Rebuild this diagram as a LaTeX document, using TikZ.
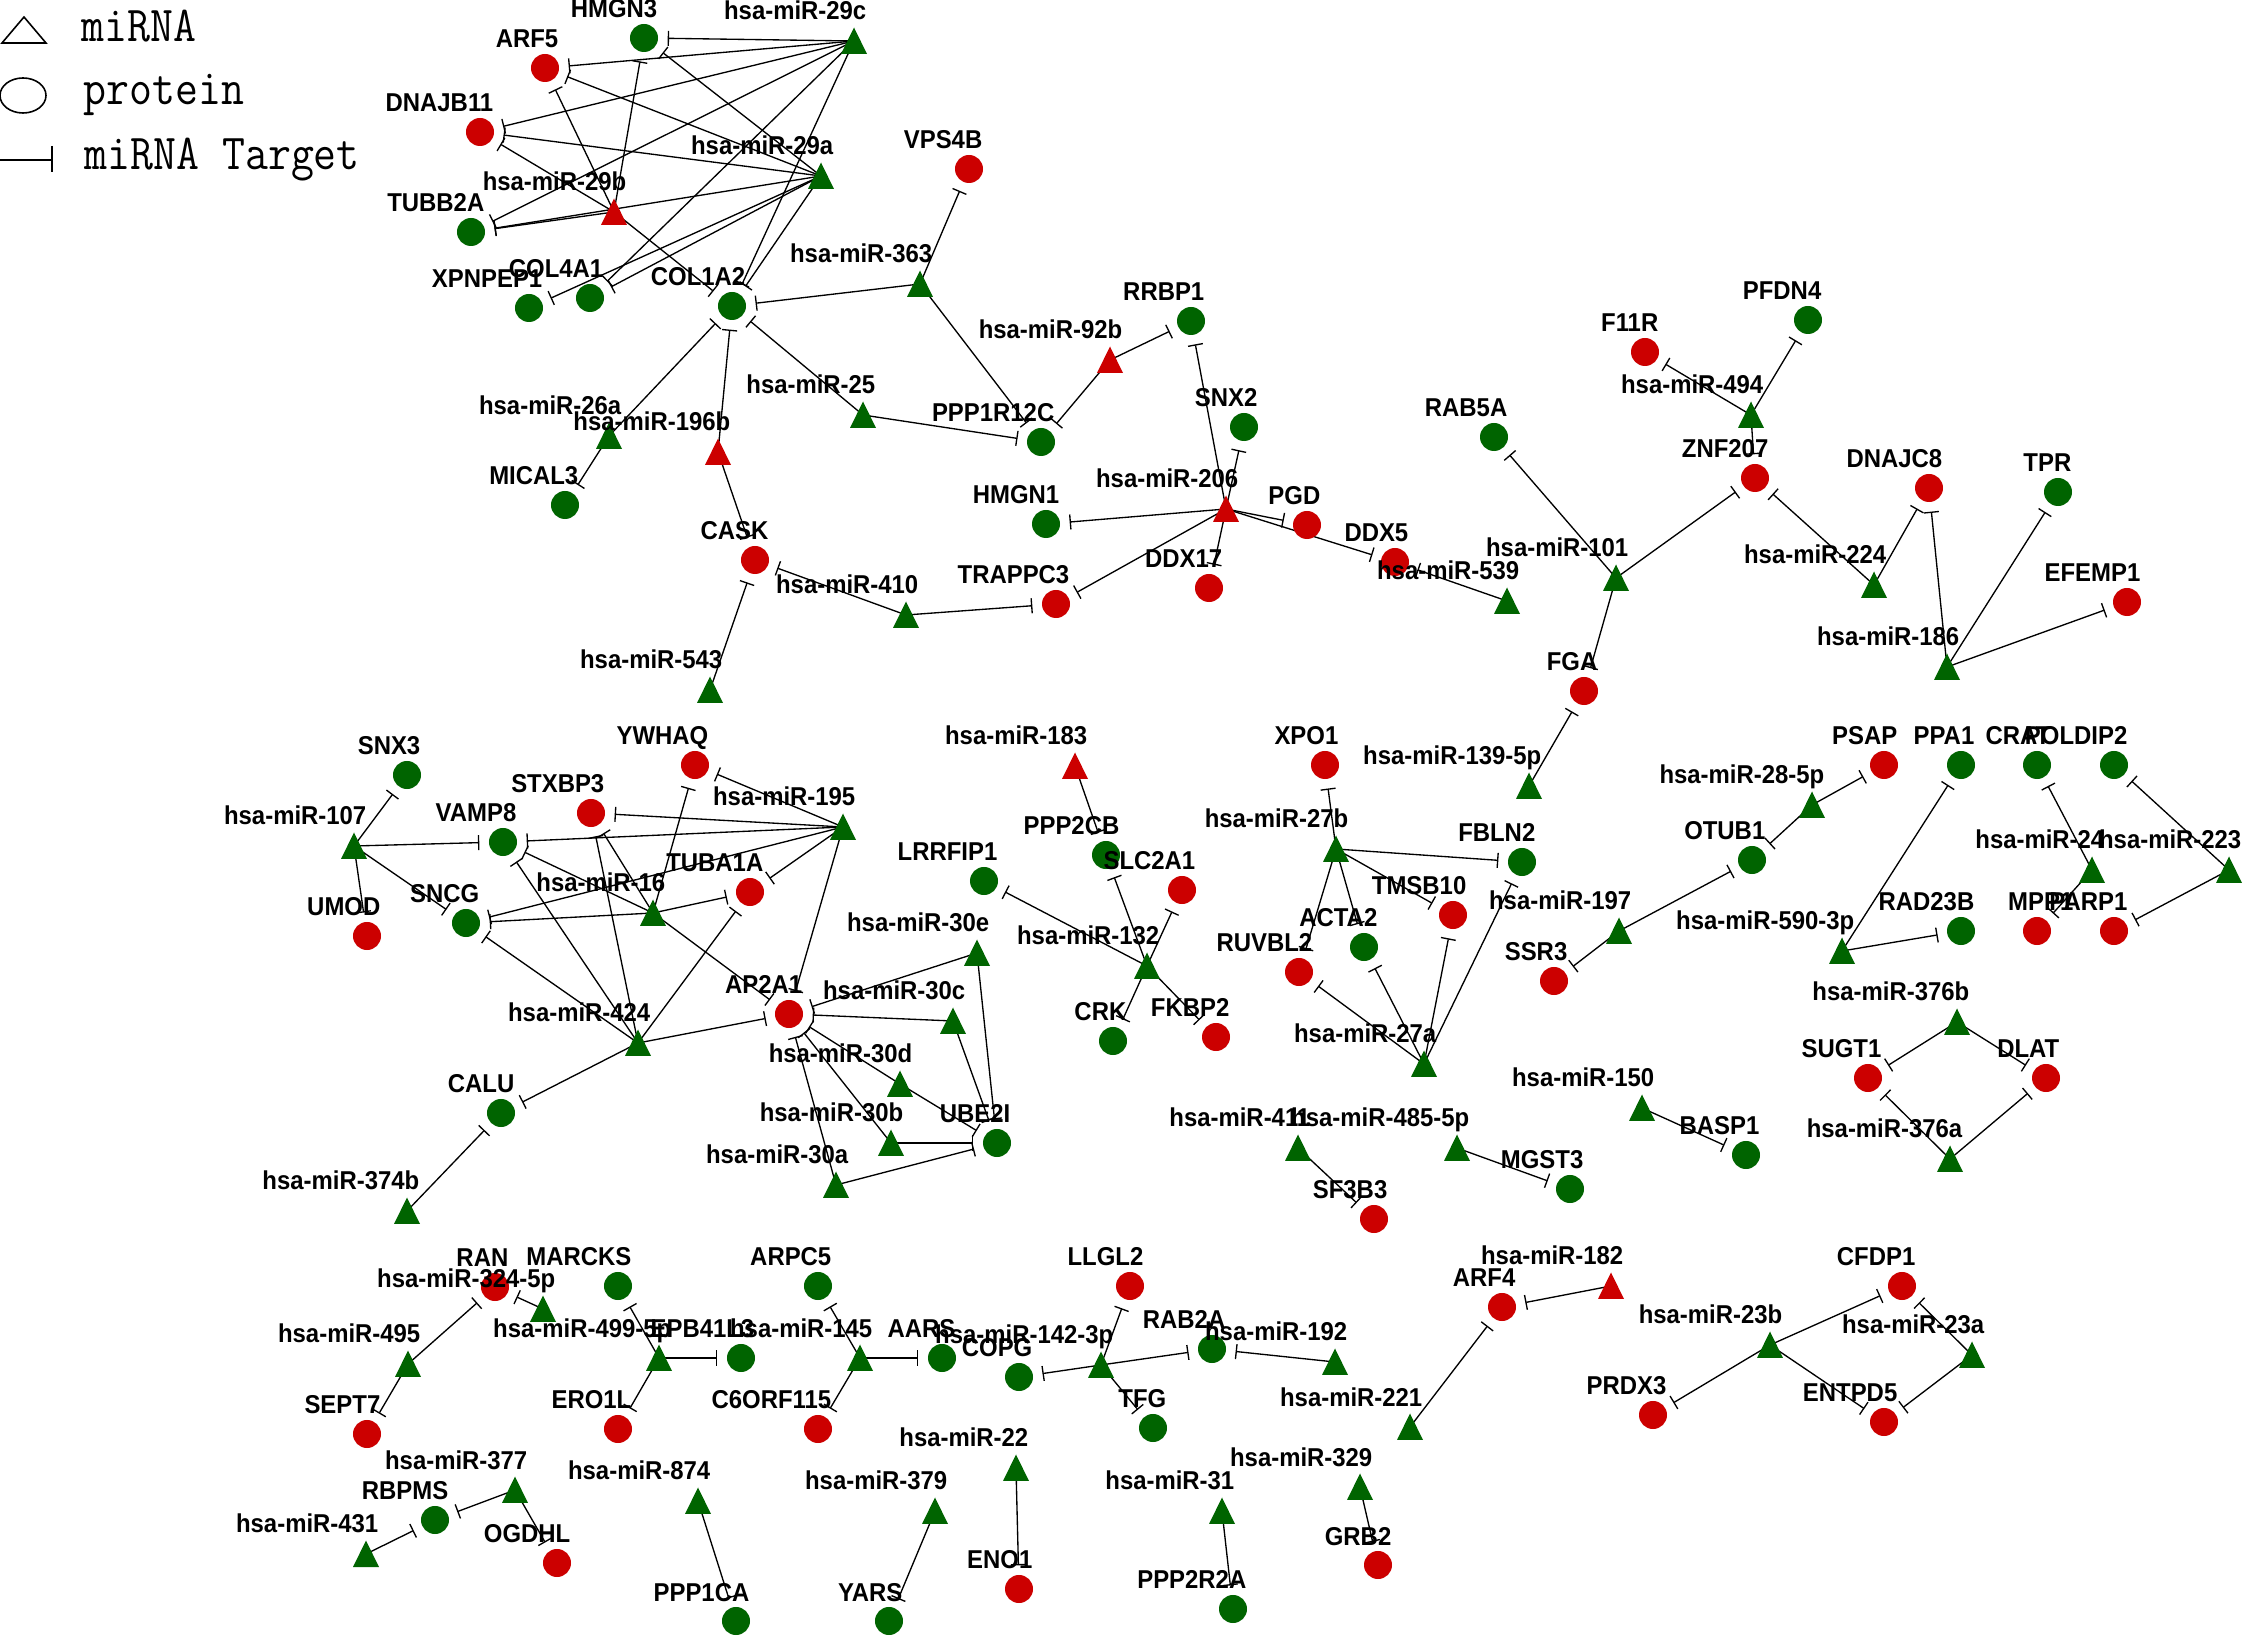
\documentclass[tikz,border=0pt]{standalone}
\usepackage{fontspec}
\usepackage{graphicx}
\setmainfont{Liberation Sans}
\usetikzlibrary{arrows.meta}
\pgfdeclarelayer{paper}
\pgfdeclarelayer{bg}
\pgfsetlayers{paper,bg,main}
\definecolor{dg}{RGB}{0,100,0}
\definecolor{dr}{RGB}{204,0,0}
\tikzset{
  prot/.style={circle,minimum size=0.28cm,inner sep=0pt,draw=none},
  mir/.style={circle,minimum size=0.26cm,inner sep=0pt,draw=none},
  lab/.style={anchor=base east,inner sep=0pt,font=\bfseries\fontsize{6.8pt}{8pt}\selectfont},
  inh/.style={line width=0.38pt,-{Bar[width=0.15cm]},shorten >=0.09cm},
  legtxt/.style={anchor=base west,inner sep=0pt,font=\ttfamily\fontsize{12.66pt}{14pt}\selectfont},
  legline/.style={line width=0.45pt}
}
\newcommand{\Pn}[6][14]{\node[prot,fill=#5] (#2) at (#3,#4) {};\node[lab] (#2-l) at (#3+#1,#4-20) {\scalebox{1}[1.08]{#6}};}
\newcommand{\Mn}[5]{\node[mir] (#1) at (#2,#3) {};\fill[#4] (#2-13,#3+13) -- (#2+13,#3+13) -- (#2,#3-13.5) -- cycle;\node[lab] (#1-l) at (#2+13,#3-21) {\scalebox{1}[1.08]{#5}};}
\begin{document}
\begin{tikzpicture}[x=0.01cm,y=-0.01cm]
\begin{pgfonlayer}{paper}
\fill[white] (0,0) rectangle (2244,1640);
\end{pgfonlayer}
\useasboundingbox (0,0) rectangle (2244,1640);
% legend
\draw[legline] (24,17) -- (46,43) -- (2,43) -- cycle;
\node[legtxt] (lg1) at (81,42) {\scalebox{1}[1.13]{miRNA}};
\draw[legline] (23,95.5) ellipse [x radius=0.23cm, y radius=0.175cm];
\node[legtxt] (lg2) at (83,105) {\scalebox{1}[1.13]{protein}};
\draw[legline] (0,160) -- (52,160);
\draw[legline] (52,146) -- (52,172);
\node[legtxt] (lg3) at (84,170) {\scalebox{1}[1.13]{miRNA Target}};
% proteins
\Pn{ARF5}{545}{68}{dr}{ARF5}
\Pn{HMGN3}{644}{38}{dg}{HMGN3}
\Pn{DNAJB11}{480}{132}{dr}{DNAJB11}
\Pn{TUBB2A}{471}{232}{dg}{TUBB2A}
\Pn{XPNPEP1}{529}{308}{dg}{XPNPEP1}
\Pn{COL4A1}{590}{298}{dg}{COL4A1}
\Pn{COL1A2}{732}{306}{dg}{COL1A2}
\Pn{VPS4B}{969}{169}{dr}{VPS4B}
\Pn{RRBP1}{1191}{321}{dg}{RRBP1}
\Pn{PPP1R12C}{1041}{442}{dg}{PPP1R12C}
\Pn{MICAL3}{565}{505}{dg}{MICAL3}
\Pn{SNX2}{1244}{427}{dg}{SNX2}
\Pn{HMGN1}{1046}{524}{dg}{HMGN1}
\Pn{PGD}{1307}{525}{dr}{PGD}
\Pn{CASK}{755}{560}{dr}{CASK}
\Pn{DDX17}{1209}{588}{dr}{DDX17}
\Pn{DDX5}{1395}{562}{dr}{DDX5}
\Pn{TRAPPC3}{1056}{604}{dr}{TRAPPC3}
\Pn{RAB5A}{1494}{437}{dg}{RAB5A}
\Pn{F11R}{1645}{352}{dr}{F11R}
\Pn{PFDN4}{1808}{320}{dg}{PFDN4}
\Pn{ZNF207}{1755}{478}{dr}{ZNF207}
\Pn{DNAJC8}{1929}{488}{dr}{DNAJC8}
\Pn{TPR}{2058}{492}{dg}{TPR}
\Pn{EFEMP1}{2127}{602}{dr}{EFEMP1}
\Pn{FGA}{1584}{691}{dr}{FGA}
\Pn{SNX3}{407}{775}{dg}{SNX3}
\Pn{YWHAQ}{695}{765}{dr}{YWHAQ}
\Pn{STXBP3}{591}{813}{dr}{STXBP3}
\Pn{VAMP8}{503}{842}{dg}{VAMP8}
\Pn{TUBA1A}{750}{892}{dr}{TUBA1A}
\Pn{SNCG}{466}{923}{dg}{SNCG}
\Pn{UMOD}{367}{936}{dr}{UMOD}
\Pn{AP2A1}{789}{1014}{dr}{AP2A1}
\Pn{CALU}{501}{1113}{dg}{CALU}
\Pn{PPP2CB}{1106}{855}{dg}{PPP2CB}
\Pn{LRRFIP1}{984}{881}{dg}{LRRFIP1}
\Pn{SLC2A1}{1182}{890}{dr}{SLC2A1}
\Pn{CRK}{1113}{1041}{dg}{CRK}
\Pn{FKBP2}{1216}{1037}{dr}{FKBP2}
\Pn{XPO1}{1325}{765}{dr}{XPO1}
\Pn{FBLN2}{1522}{862}{dg}{FBLN2}
\Pn{TMSB10}{1453}{915}{dr}{TMSB10}
\Pn{ACTA2}{1364}{947}{dg}{ACTA2}
\Pn{RUVBL2}{1299}{972}{dr}{RUVBL2}
\Pn{SSR3}{1554}{981}{dr}{SSR3}
\Pn{PSAP}{1884}{765}{dr}{PSAP}
\Pn{PPA1}{1961}{765}{dg}{PPA1}
\Pn{CRAT}{2037}{765}{dg}{CRAT}
\Pn{POLDIP2}{2114}{765}{dg}{POLDIP2}
\Pn{OTUB1}{1752}{860}{dg}{OTUB1}
\Pn{RAD23B}{1961}{931}{dg}{RAD23B}
\Pn[37]{MPP1}{2037}{931}{dr}{MPP1}
\Pn{PARP1}{2114}{931}{dr}{PARP1}
\Pn{SUGT1}{1868}{1078}{dr}{SUGT1}
\Pn{DLAT}{2046}{1078}{dr}{DLAT}
\Pn{BASP1}{1746}{1155}{dg}{BASP1}
\Pn{UBE2I}{997}{1143}{dg}{UBE2I}
\Pn{SF3B3}{1374}{1219}{dr}{SF3B3}
\Pn{MGST3}{1570}{1189}{dg}{MGST3}
\Pn{RAN}{495}{1287}{dr}{RAN}
\Pn{MARCKS}{618}{1286}{dg}{MARCKS}
\Pn{EPB41L3}{741}{1358}{dg}{EPB41L3}
\Pn{ARPC5}{818}{1286}{dg}{ARPC5}
\Pn{AARS}{942}{1358}{dg}{AARS}
\Pn{COPG}{1019}{1377}{dg}{COPG}
\Pn{LLGL2}{1130}{1286}{dr}{LLGL2}
\Pn{RAB2A}{1212}{1349}{dg}{RAB2A}
\Pn{TFG}{1153}{1428}{dg}{TFG}
\Pn{ERO1L}{618}{1429}{dr}{ERO1L}
\Pn{C6ORF115}{818}{1429}{dr}{C6ORF115}
\Pn{SEPT7}{367}{1434}{dr}{SEPT7}
\Pn{ARF4}{1502}{1307}{dr}{ARF4}
\Pn{CFDP1}{1902}{1286}{dr}{CFDP1}
\Pn{PRDX3}{1653}{1415}{dr}{PRDX3}
\Pn{ENTPD5}{1884}{1422}{dr}{ENTPD5}
\Pn{RBPMS}{435}{1520}{dg}{RBPMS}
\Pn{OGDHL}{557}{1563}{dr}{OGDHL}
\Pn{ENO1}{1019}{1589}{dr}{ENO1}
\Pn{GRB2}{1378}{1565}{dr}{GRB2}
\Pn{PPP1CA}{736}{1621}{dg}{PPP1CA}
\Pn{YARS}{889}{1621}{dg}{YARS}
\Pn{PPP2R2A}{1233}{1609}{dg}{PPP2R2A}
% miRNAs
\Mn{m29c}{854}{41}{dg}{hsa-miR-29c}
\Mn{m29a}{821}{176}{dg}{hsa-miR-29a}
\Mn{m29b}{614}{212}{dr}{hsa-miR-29b}
\Mn{m363}{920}{284}{dg}{hsa-miR-363}
\Mn{m92b}{1110}{360}{dr}{hsa-miR-92b}
\Mn{m25}{863}{415}{dg}{hsa-miR-25}
\Mn{m26a}{609}{436}{dg}{hsa-miR-26a}
\Mn{m196b}{718}{452}{dr}{hsa-miR-196b}
\Mn{m206}{1226}{509}{dr}{hsa-miR-206}
\Mn{m410}{906}{615}{dg}{hsa-miR-410}
\Mn{m543}{710}{690}{dg}{hsa-miR-543}
\Mn{m539}{1507}{601}{dg}{hsa-miR-539}
\Mn{m101}{1616}{578}{dg}{hsa-miR-101}
\Mn{m494}{1751}{415}{dg}{hsa-miR-494}
\Mn{m224}{1874}{585}{dg}{hsa-miR-224}
\Mn{m186}{1947}{667}{dg}{hsa-miR-186}
\Mn{m139}{1529}{786}{dg}{hsa-miR-139-5p}
\Mn{m107}{354}{846}{dg}{hsa-miR-107}
\Mn{m195}{843}{827}{dg}{hsa-miR-195}
\Mn{m16}{653}{913}{dg}{hsa-miR-16}
\Mn{m424}{638}{1043}{dg}{hsa-miR-424}
\Mn{m374b}{407}{1211}{dg}{hsa-miR-374b}
\Mn{m183}{1075}{766}{dr}{hsa-miR-183}
\Mn{m132}{1147}{966}{dg}{hsa-miR-132}
\Mn{m30e}{977}{953}{dg}{hsa-miR-30e}
\Mn{m30c}{953}{1021}{dg}{hsa-miR-30c}
\Mn{m30d}{900}{1084}{dg}{hsa-miR-30d}
\Mn{m30b}{891}{1143}{dg}{hsa-miR-30b}
\Mn{m30a}{836}{1185}{dg}{hsa-miR-30a}
\Mn{m27b}{1336}{849}{dg}{hsa-miR-27b}
\Mn{m27a}{1424}{1064}{dg}{hsa-miR-27a}
\Mn{m197}{1619}{931}{dg}{hsa-miR-197}
\Mn{m285p}{1812}{805}{dg}{hsa-miR-28-5p}
\Mn{m5903p}{1842}{951}{dg}{hsa-miR-590-3p}
\Mn{m24}{2092}{870}{dg}{hsa-miR-24}
\Mn{m223}{2229}{870}{dg}{hsa-miR-223}
\Mn{m376b}{1957}{1022}{dg}{hsa-miR-376b}
\Mn{m376a}{1950}{1159}{dg}{hsa-miR-376a}
\Mn{m150}{1642}{1108}{dg}{hsa-miR-150}
\Mn{m411}{1298}{1148}{dg}{hsa-miR-411}
\Mn{m4855p}{1457}{1148}{dg}{hsa-miR-485-5p}
\Mn{m3245p}{543}{1309}{dg}{hsa-miR-324-5p}
\Mn{m495}{408}{1364}{dg}{hsa-miR-495}
\Mn{m4995p}{659}{1358}{dg}{hsa-miR-499-5p}
\Mn{m145}{860}{1358}{dg}{hsa-miR-145}
\Mn{m1423p}{1101}{1365}{dg}{hsa-miR-142-3p}
\Mn{m192}{1335}{1362}{dg}{hsa-miR-192}
\Mn{m182}{1611}{1286}{dr}{hsa-miR-182}
\Mn{m221}{1410}{1427}{dg}{hsa-miR-221}
\Mn{m23b}{1770}{1345}{dg}{hsa-miR-23b}
\Mn{m23a}{1972}{1355}{dg}{hsa-miR-23a}
\Mn{m22}{1016}{1468}{dg}{hsa-miR-22}
\Mn{m377}{515}{1490}{dg}{hsa-miR-377}
\Mn{m431}{366}{1554}{dg}{hsa-miR-431}
\Mn{m874}{698}{1501}{dg}{hsa-miR-874}
\Mn{m379}{935}{1511}{dg}{hsa-miR-379}
\Mn{m31}{1222}{1511}{dg}{hsa-miR-31}
\Mn{m329}{1360}{1487}{dg}{hsa-miR-329}
% edges
\begin{pgfonlayer}{bg}
\foreach \s/\t in {m29c/HMGN3,m29c/ARF5,m29c/DNAJB11,m29c/TUBB2A,m29c/COL4A1,m29c/COL1A2,
 m29a/HMGN3,m29a/ARF5,m29a/DNAJB11,m29a/TUBB2A,m29a/COL4A1,m29a/XPNPEP1,m29a/COL1A2,
 m29b/HMGN3,m29b/ARF5,m29b/DNAJB11,m29b/TUBB2A,m29b/COL1A2,
 m363/VPS4B,m363/COL1A2,m363/PPP1R12C,m92b/PPP1R12C,m92b/RRBP1,m25/COL1A2,m25/PPP1R12C,
 m26a/COL1A2,m26a/MICAL3,m196b/COL1A2,m196b/CASK,m410/CASK,m410/TRAPPC3,m543/CASK,
 m206/RRBP1,m206/SNX2,m206/HMGN1,m206/PGD,m206/DDX17,m206/TRAPPC3,m206/DDX5,m539/DDX5,
 m101/RAB5A,m101/ZNF207,m101/FGA,m494/F11R,m494/PFDN4,m494/ZNF207,m224/ZNF207,m224/DNAJC8,
 m186/DNAJC8,m186/TPR,m186/EFEMP1,m139/FGA,
 m107/SNX3,m107/VAMP8,m107/SNCG,m107/UMOD,
 m195/YWHAQ,m195/STXBP3,m195/VAMP8,m195/SNCG,m195/TUBA1A,m195/AP2A1,
 m16/YWHAQ,m16/STXBP3,m16/VAMP8,m16/SNCG,m16/TUBA1A,m16/AP2A1,
 m424/VAMP8,m424/STXBP3,m424/SNCG,m424/TUBA1A,m424/AP2A1,m424/CALU,m374b/CALU,
 m30e/AP2A1,m30e/UBE2I,m30c/AP2A1,m30c/UBE2I,m30d/AP2A1,m30d/UBE2I,m30b/AP2A1,m30b/UBE2I,m30a/AP2A1,m30a/UBE2I,
 m183/PPP2CB,m132/LRRFIP1,m132/PPP2CB,m132/SLC2A1,m132/CRK,m132/FKBP2,
 m27b/XPO1,m27b/FBLN2,m27b/TMSB10,m27b/RUVBL2,m27b/ACTA2,m27a/RUVBL2,m27a/ACTA2,m27a/TMSB10,m27a/FBLN2,
 m197/SSR3,m197/OTUB1,m285p/PSAP,m285p/OTUB1,m5903p/PPA1,m5903p/RAD23B,m24/CRAT,m24/MPP1,m223/POLDIP2,m223/PARP1,
 m376b/SUGT1,m376b/DLAT,m376a/SUGT1,m376a/DLAT,m150/BASP1,m411/SF3B3,m4855p/MGST3,
 m3245p/RAN,m495/RAN,m495/SEPT7,m4995p/MARCKS,m4995p/EPB41L3,m4995p/ERO1L,m145/ARPC5,m145/AARS,m145/C6ORF115,
 m1423p/COPG,m1423p/LLGL2,m1423p/TFG,m1423p/RAB2A,m192/RAB2A,m182/ARF4,m221/ARF4,
 m23b/CFDP1,m23b/ENTPD5,m23b/PRDX3,m23a/CFDP1,m23a/ENTPD5,m22/ENO1,m377/RBPMS,m377/OGDHL,m431/RBPMS,
 m874/PPP1CA,m379/YARS,m31/PPP2R2A,m329/GRB2}
 {\draw[inh] (\s.center) -- (\t);}
\end{pgfonlayer}
\end{tikzpicture}
\end{document}
